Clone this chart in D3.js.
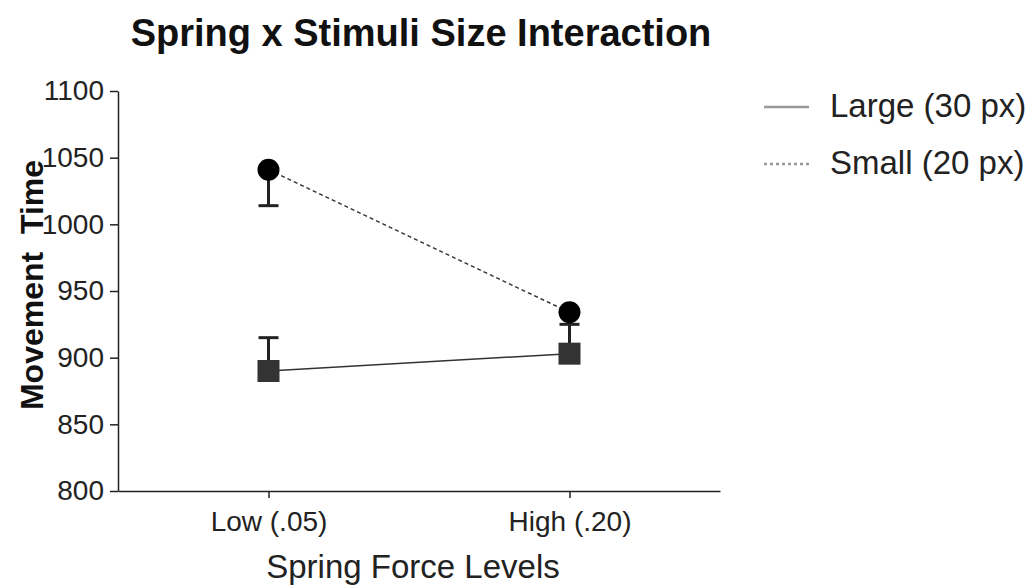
<!DOCTYPE html>
<html>
<head>
<meta charset="utf-8">
<script src="https://cdn.jsdelivr.net/npm/d3@7/dist/d3.min.js"></script>
<style>
  html, body { margin: 0; padding: 0; background: #fff; }
  svg { display: block; font-family: "Liberation Sans", Arial, sans-serif; }
</style>
</head>
<body>
<svg id="chart" width="1033" height="586"></svg>
<script>
// Spring force levels on the x axis
const levels = ["Low (.05)", "High (.20)"];
// Mean movement time per stimulus size
const largeMeans = [890, 903];
const smallMeans = [1041, 934];
// Standard errors
const largeErr = [25, 22];
const smallErr = [27, 30];
// Axis ticks
const yTicks = [800, 850, 900, 950, 1000, 1050, 1100];
const seriesNames = ["Large (30 px)", "Small (20 px)"];

(function draw() {
  const svg = d3.select("#chart");
  const plotLeft = 118, plotRight = 720, plotTop = 91, plotBottom = 491;

  const x = d3.scalePoint().domain(levels).range([plotLeft, plotRight]).padding(0.5);
  const y = d3.scaleLinear().domain([800, 1100]).range([plotBottom, plotTop]);

  // Title
  svg.append("text")
    .attr("x", 421).attr("y", 46)
    .attr("text-anchor", "middle")
    .attr("font-size", 38).attr("font-weight", "bold").attr("fill", "#111")
    .text("Spring x Stimuli Size Interaction");

  // Y axis
  const yAxis = svg.append("g")
    .attr("transform", `translate(${plotLeft},0)`)
    .call(d3.axisLeft(y).tickValues(yTicks).tickFormat(d3.format("d"))
      .tickSize(8).tickPadding(6).tickSizeOuter(0));
  yAxis.select(".domain").attr("stroke", "#222").attr("stroke-width", 1.5);
  yAxis.selectAll(".tick line").attr("stroke", "#222").attr("stroke-width", 1.5);
  yAxis.selectAll(".tick text")
    .attr("font-size", 28).attr("fill", "#222")
    .attr("font-family", "Liberation Sans, Arial, sans-serif");

  // X axis
  const xAxis = svg.append("g")
    .attr("transform", `translate(0,${plotBottom})`)
    .call(d3.axisBottom(x).tickSize(7).tickPadding(13).tickSizeOuter(0));
  xAxis.select(".domain").attr("stroke", "#222").attr("stroke-width", 1.5);
  xAxis.selectAll(".tick line").attr("stroke", "#222").attr("stroke-width", 1.5);
  xAxis.selectAll(".tick text")
    .attr("font-size", 28).attr("fill", "#222")
    .attr("font-family", "Liberation Sans, Arial, sans-serif");

  // Axis titles
  svg.append("text")
    .attr("transform", "translate(43,285) rotate(-90)")
    .attr("text-anchor", "middle")
    .attr("font-size", 32).attr("font-weight", "bold").attr("fill", "#111")
    .style("white-space", "pre")
    .text("Movement  Time");

  svg.append("text")
    .attr("x", 413).attr("y", 578)
    .attr("text-anchor", "middle")
    .attr("font-size", 33).attr("fill", "#222")
    .text("Spring Force Levels");

  const plot = svg.append("g");
  const lineGen = d3.line().x((d, i) => x(levels[i])).y(d => y(d));

  // Connecting lines
  plot.append("path").datum(largeMeans)
    .attr("d", lineGen).attr("fill", "none")
    .attr("stroke", "#333").attr("stroke-width", 1.5);
  plot.append("path").datum(smallMeans)
    .attr("d", lineGen).attr("fill", "none")
    .attr("stroke", "#333").attr("stroke-width", 1.5)
    .attr("stroke-dasharray", "4,3");

  // Error bars: large goes up, small goes down
  function errBar(cx, from, to) {
    plot.append("line")
      .attr("x1", cx).attr("x2", cx).attr("y1", y(from)).attr("y2", y(to))
      .attr("stroke", "#222").attr("stroke-width", 3);
    plot.append("line")
      .attr("x1", cx - 10).attr("x2", cx + 10).attr("y1", y(to)).attr("y2", y(to))
      .attr("stroke", "#222").attr("stroke-width", 3);
  }
  levels.forEach((lv, i) => {
    errBar(x(lv), largeMeans[i], largeMeans[i] + largeErr[i]);
    errBar(x(lv), smallMeans[i], smallMeans[i] - smallErr[i]);
  });

  // Markers
  plot.selectAll("rect.large").data(largeMeans).enter().append("rect")
    .attr("class", "large")
    .attr("x", (d, i) => x(levels[i]) - 11).attr("y", d => y(d) - 11)
    .attr("width", 22).attr("height", 22)
    .attr("fill", "#333");
  plot.selectAll("circle.small").data(smallMeans).enter().append("circle")
    .attr("class", "small")
    .attr("cx", (d, i) => x(levels[i])).attr("cy", d => y(d))
    .attr("r", 11).attr("fill", "#000");

  // Legend
  const legend = svg.append("g");
  seriesNames.forEach((name, i) => {
    const ly = 107 + i * 57;
    legend.append("line")
      .attr("x1", 764).attr("x2", 809).attr("y1", ly).attr("y2", ly)
      .attr("stroke", "#999").attr("stroke-width", 2.5)
      .attr("stroke-dasharray", i === 1 ? "3,3" : null);
    legend.append("text")
      .attr("x", 830).attr("y", ly + 10)
      .attr("font-size", 33).attr("fill", "#222")
      .text(name);
  });
})();
</script>
</body>
</html>
